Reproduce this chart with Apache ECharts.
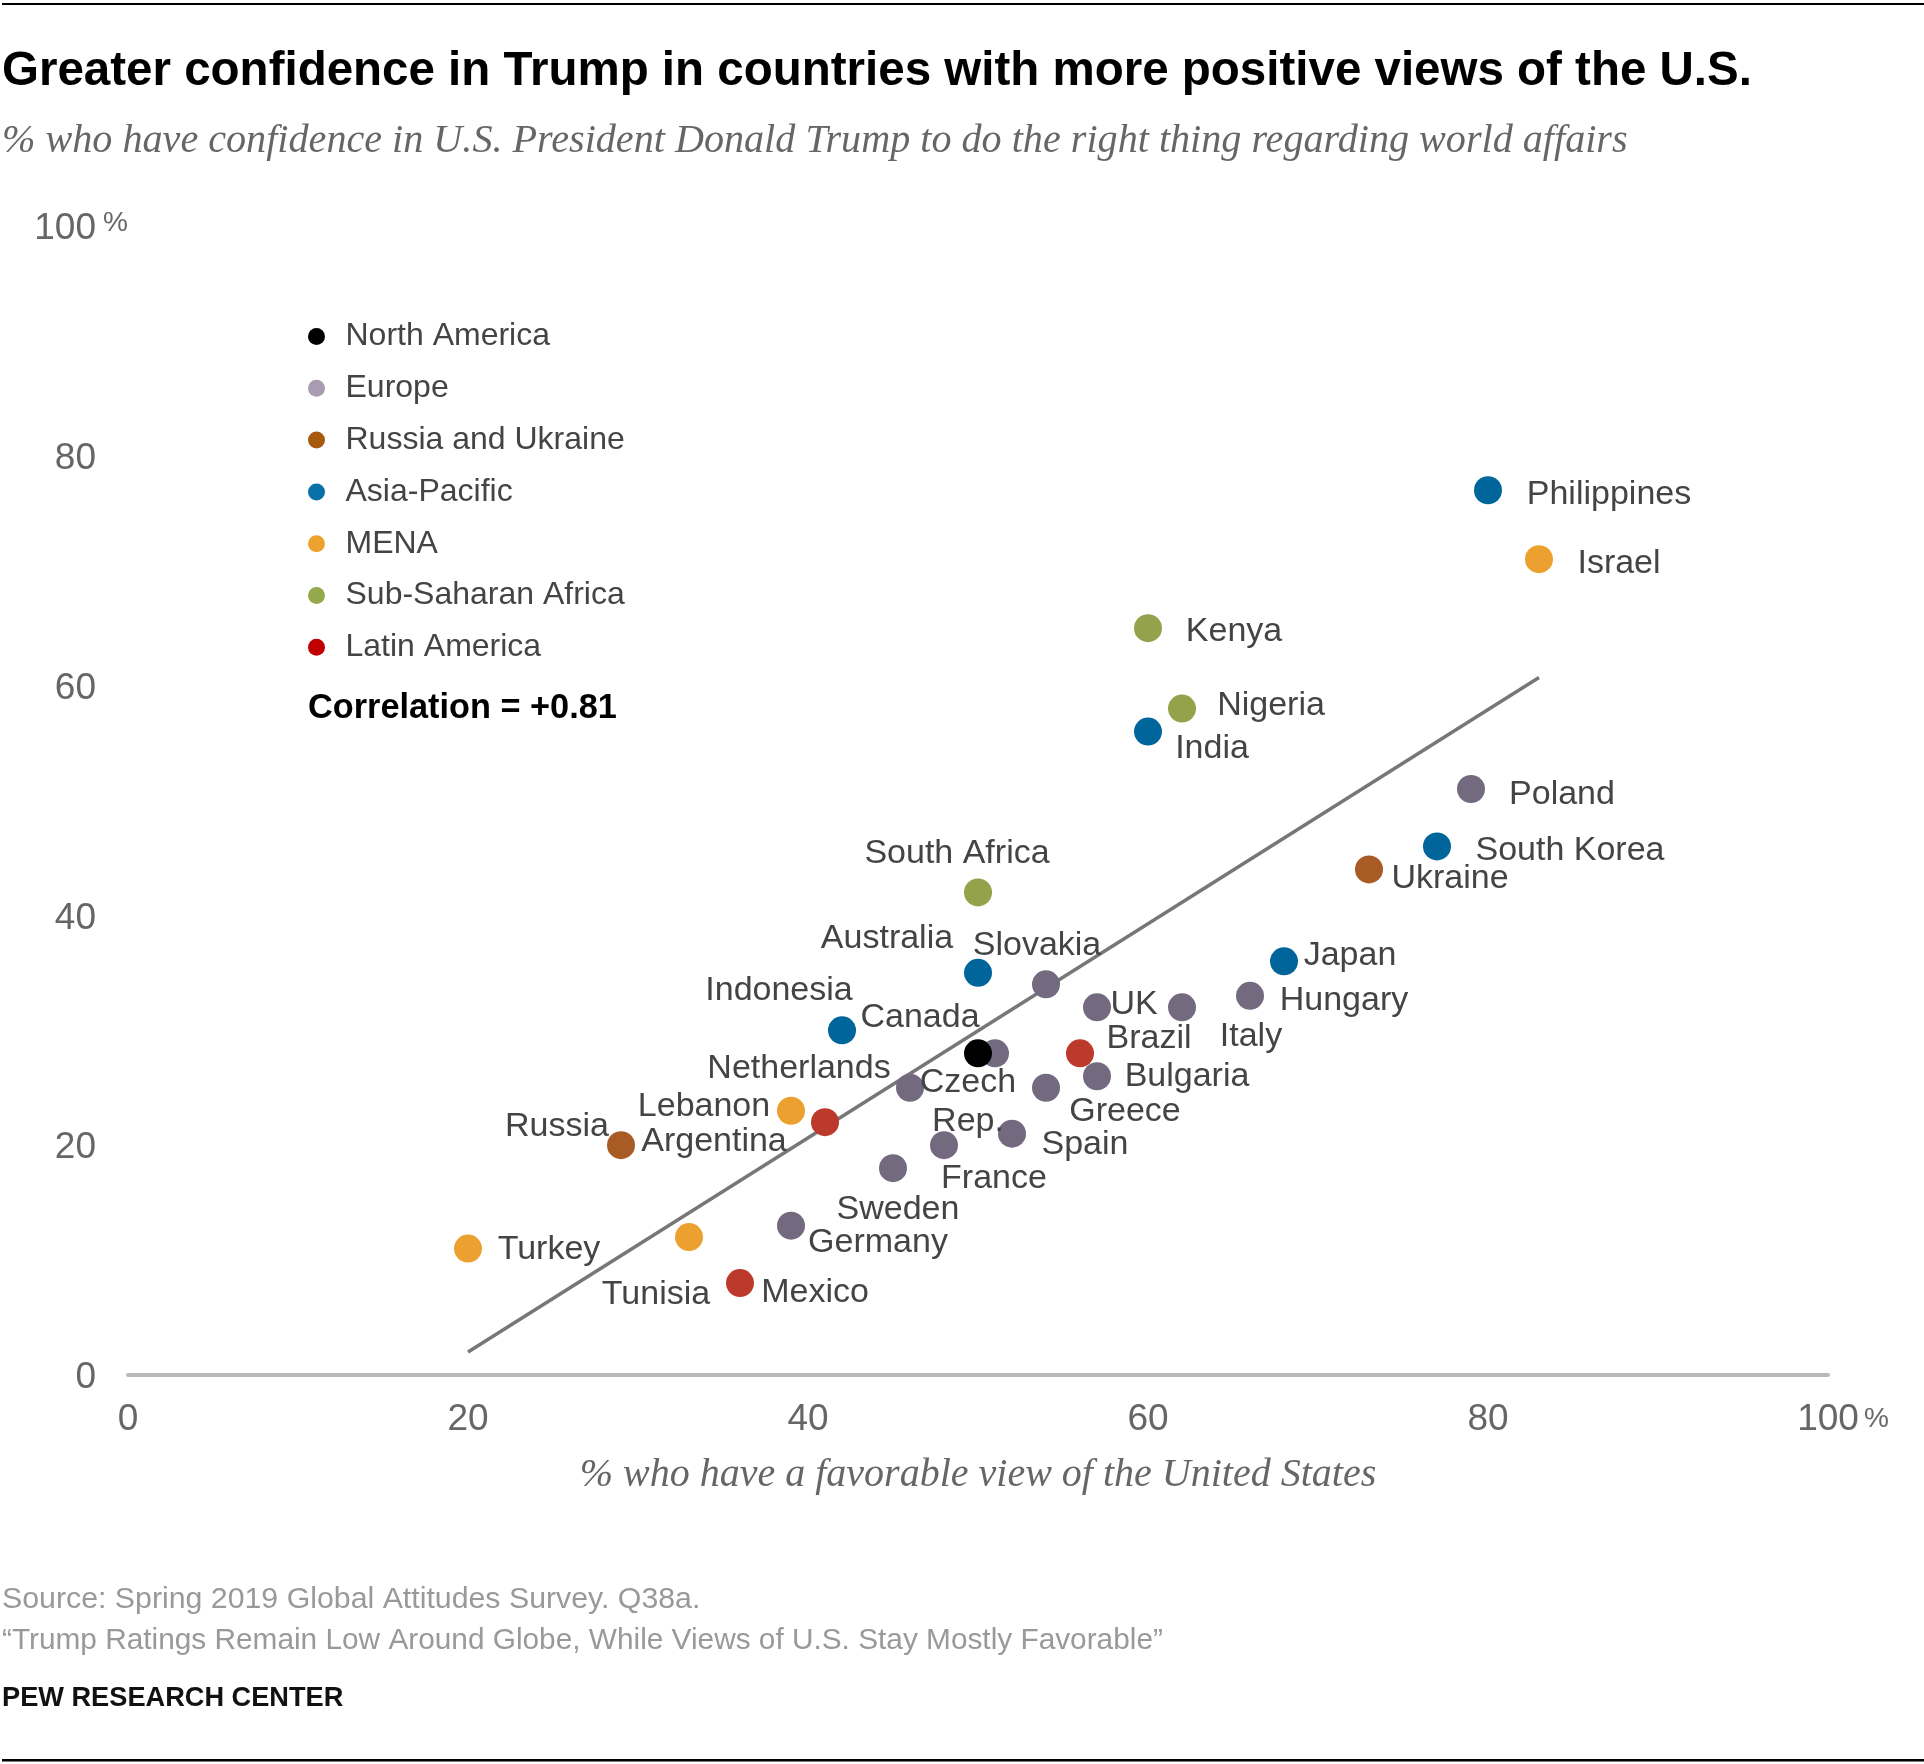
<!DOCTYPE html>
<html><head><meta charset="utf-8">
<style>html,body{margin:0;padding:0;background:#fff}#c{width:1924px;height:1764px}</style>
<script src="https://cdn.jsdelivr.net/npm/echarts@6/dist/echarts.min.js"></script>
</head><body><div id="c"></div>
<script>
// ---- data ----
const regions = ['North America','Europe','Russia and Ukraine','Asia-Pacific','MENA','Sub-Saharan Africa','Latin America'];
const northAmerica = [['Canada',50,28]];
const europe = [['Poland',79,51],['Hungary',66,33],['Slovakia',54,34],['UK',57,32],['Italy',62,32],['Czech\nRep.',51,28],['Netherlands',46,25],['Bulgaria',57,26],['Greece',54,25],['Spain',52,21],['France',48,20],['Sweden',45,18],['Germany',39,13]];
const russiaUkraine = [['Ukraine',73,44],['Russia',29,20]];
const asiaPacific = [['Philippines',80,77],['India',60,56],['South Korea',77,46],['Japan',68,36],['Australia',50,35],['Indonesia',42,30]];
const mena = [['Israel',83,71],['Lebanon',39,23],['Turkey',20,11],['Tunisia',33,12]];
const subSaharan = [['Kenya',60,65],['Nigeria',62,58],['South Africa',50,42]];
const latinAmerica = [['Brazil',56,28],['Argentina',41,22],['Mexico',36,8]];
const trendLine = [[20,2],[83,60.7]];
const axisTicks = [0,20,40,60,80,100];

// ---- layout and style ----
const labelOffset = {'Philippines':[121,4],'Israel':[80,4],'Kenya':[86,3],'Nigeria':[89,-3],'India':[64,17],'Poland':[91,6],'South Korea':[133,4],'Ukraine':[81,9],'South Africa':[-21,-39],'Japan':[66,-6],'Hungary':[94,5],'Australia':[-91,-34],'Slovakia':[-9,-39],'UK':[37,-3],'Italy':[69,29],'Indonesia':[-63,-40],'Canada':[-58,-36],'Brazil':[69,-15],'Czech\nRep.':[-27,49],'Netherlands':[-111,-19],'Bulgaria':[90,0],'Greece':[79,24],'Spain':[73,11],'France':[50,33],'Lebanon':[-87,-4],'Argentina':[-111,19],'Russia':[-64,-19],'Sweden':[5,41],'Germany':[87,17],'Turkey':[81,1],'Tunisia':[-33,58],'Mexico':[75,10]};
const dotColors = ['#000000','#746A80','#A95B26','#00659B','#EBA02F','#94A24C','#BC3A2B'];
const legendColors = ['#000000','#A89CB0','#A55A10','#0B6FA8','#EBA32E','#94A84C','#C00000'];
const regionData = [northAmerica,europe,russiaUkraine,asiaPacific,mena,subSaharan,latinAmerica];
const sans = '"Liberation Sans", Arial, sans-serif';
const serif = '"Liberation Serif", serif';

const series = regions.map((r,i)=>({
  type:'scatter', name:r, symbol:'circle', symbolSize:28, z:i===0?4:3,
  itemStyle:{color:dotColors[i],opacity:1},
  data:regionData[i].map(d=>({name:d[0],value:[d[1],d[2]],
    label:{show:true,position:'inside',formatter:d[0],offset:labelOffset[d[0]],align:'center',verticalAlign:'middle',
      color:'#444',fontFamily:sans,fontSize:34,lineHeight:39}})),
  emphasis:{disabled:true}
}));
series.push({type:'line',data:trendLine,symbol:'none',silent:true,z:2,lineStyle:{color:'#777',width:3.5},legendHoverLink:false});

const yRich = {a:{fontFamily:sans,fontSize:37,color:'#666',lineHeight:40},
  b:{fontFamily:sans,fontSize:28,color:'#666',width:32,align:'right',verticalAlign:'top',lineHeight:28},
  p:{width:32,fontSize:28}};
const xRich = {a:{fontFamily:sans,fontSize:37,color:'#666'},
  b:{fontFamily:sans,fontSize:28,color:'#666',width:30,align:'right'},
  p:{width:30,fontSize:28}};

const option = {
  animation:false,
  backgroundColor:'#fff',
  title:[
    {text:'Greater confidence in Trump in countries with more positive views of the U.S.',left:2,top:47.5,padding:0,
     textStyle:{fontFamily:sans,fontWeight:'bold',fontSize:47.5,color:'#000'}},
    {text:'% who have confidence in U.S. President Donald Trump to do the right thing regarding world affairs',left:2,top:121,padding:0,
     textStyle:{fontFamily:serif,fontStyle:'italic',fontWeight:'normal',fontSize:40.15,color:'#666'}},
    {text:'Source: Spring 2019 Global Attitudes Survey. Q38a.',left:2,top:1585,padding:0,
     textStyle:{fontFamily:sans,fontWeight:'normal',fontSize:30.3,color:'#999'}},
    {text:'\u201CTrump Ratings Remain Low Around Globe, While Views of U.S. Stay Mostly Favorable\u201D',left:2,top:1626,padding:0,
     textStyle:{fontFamily:sans,fontWeight:'normal',fontSize:29.8,color:'#999'}},
    {text:'PEW RESEARCH CENTER',left:2,top:1685,padding:0,
     textStyle:{fontFamily:sans,fontWeight:'bold',fontSize:27.2,color:'#111'}}
  ],
  grid:{left:128,right:96,top:226,height:1149,containLabel:false},
  legend:{left:308,top:320.5,orient:'vertical',itemWidth:18,itemHeight:17,itemGap:19.8,icon:'circle',selectedMode:false,padding:0,
    textStyle:{fontFamily:sans,fontSize:32,color:'#444',lineHeight:32,padding:[0,0,0,15]},
    data:regions.map((r,i)=>({name:r,itemStyle:{color:legendColors[i]}}))},
  xAxis:{type:'value',min:0,max:100,interval:20,
    name:'% who have a favorable view of the United States',nameLocation:'middle',nameGap:80,
    nameTextStyle:{fontFamily:serif,fontStyle:'italic',fontSize:40,color:'#666'},
    axisLine:{show:true,lineStyle:{color:'#B8B8B8',width:4}},axisTick:{show:false},splitLine:{show:false},
    axisLabel:{margin:26,hideOverlap:false,showMinLabel:true,showMaxLabel:true,
      formatter:v=>v===axisTicks[5]?`{p|}{a|${v}}{b|%}`:`{a|${v}}`,rich:xRich}},
  yAxis:{type:'value',min:0,max:100,interval:20,
    axisLine:{show:false},axisTick:{show:false},splitLine:{show:false},
    axisLabel:{margin:0,showMinLabel:true,showMaxLabel:true,padding:[6,0,0,0],
      formatter:v=>v===axisTicks[5]?`{a|${v}}{b|%}`:`{a|${v}}{p|}`,rich:yRich}},
  graphic:[
    {type:'rect',silent:true,shape:{x:2,y:3,width:1922,height:2},style:{fill:'#000'}},
    {type:'rect',silent:true,shape:{x:2,y:1759,width:1922,height:2.5},style:{fill:'#000'}},
    {type:'text',silent:true,x:308,y:709,style:{text:'Correlation = +0.81',fontFamily:sans,fontWeight:'bold',fontSize:34.3,fill:'#000',textVerticalAlign:'middle'}}
  ],
  series
};
echarts.init(document.getElementById('c'),null,{renderer:'canvas'}).setOption(option);
</script></body></html>
